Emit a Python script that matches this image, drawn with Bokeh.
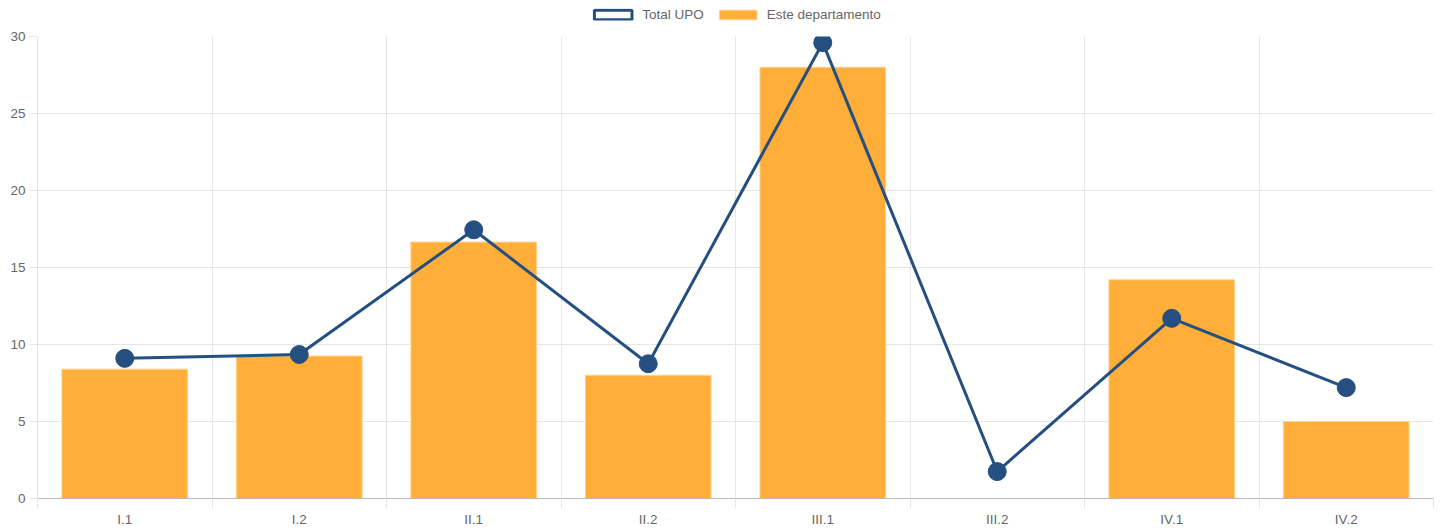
from bokeh.plotting import figure
from bokeh.layouts import column
from bokeh.models import FixedTicker, Legend, LegendItem, ColumnDataSource, Range1d
from bokeh.embed import file_html
from bokeh.resources import INLINE

categories = ["I.1", "I.2", "II.1", "II.2", "III.1", "III.2", "IV.1", "IV.2"]
dept_values = [8.4, 9.25, 16.65, 8.0, 28.0, 0.0, 14.2, 5.0]
total_values = [9.1, 9.35, 17.45, 8.75, 29.6, 1.75, 11.7, 7.2]
y_ticks = [0, 5, 10, 15, 20, 25, 30]
series_names = ["Total UPO", "Este departamento"]

BAR = "#FFAE3A"
BAR_EDGE = "#FFD08F"
LINE = "#244F80"
FONT = "Liberation Sans"
TXT = "#666666"
GRID = "#e6e6e6"
FS = "13.5px"

xs = [i + 0.5 for i in range(len(categories))]
src = ColumnDataSource(dict(x=xs, dept=dept_values, total=total_values))

# ---------- main chart ----------
p = figure(width=1434, height=501, output_backend="svg", toolbar_location=None,
           x_range=Range1d(0, len(categories)), y_range=Range1d(0, 30),
           min_border_left=37, min_border_right=1, min_border_top=8, min_border_bottom=0)
p.outline_line_color = None

p.vbar(x="x", top="dept", width=0.72, source=src, fill_color=BAR,
       line_color=BAR_EDGE, line_width=1)
p.line(x="x", y="total", source=src, line_color=LINE, line_width=3)
p.scatter(x="x", y="total", source=src, size=18, fill_color=LINE, line_color=LINE)

# x axis
p.xaxis.ticker = FixedTicker(ticks=xs, minor_ticks=list(range(len(categories) + 1)))
p.xaxis.major_label_overrides = {x: c for x, c in zip(xs, categories)}
p.xaxis.major_tick_out = 0
p.xaxis.major_tick_in = 0
p.xaxis.minor_tick_out = 10
p.xaxis.minor_tick_in = 0
p.xaxis.minor_tick_line_color = GRID
p.xaxis.axis_line_color = "#b8b8b8"
p.xaxis.major_label_text_font = FONT
p.xaxis.major_label_text_font_size = FS
p.xaxis.major_label_text_color = TXT
p.xaxis.major_label_standoff = 3

p.xgrid.ticker = FixedTicker(ticks=list(range(len(categories) + 1)))
p.xgrid.grid_line_color = GRID

# y axis
p.yaxis.ticker = FixedTicker(ticks=y_ticks)
p.yaxis.major_tick_out = 8
p.yaxis.major_tick_in = 0
p.yaxis.minor_tick_line_color = None
p.yaxis.major_tick_line_color = GRID
p.yaxis.axis_line_color = GRID
p.yaxis.major_label_text_font = FONT
p.yaxis.major_label_text_font_size = FS
p.yaxis.major_label_text_color = TXT
p.yaxis.major_label_standoff = 4
p.ygrid.grid_line_color = GRID

# ---------- legend strip ----------
lg = figure(width=1434, height=28, output_backend="svg", toolbar_location=None,
            x_range=Range1d(0, 1), y_range=Range1d(0, 1), min_border=0)
lg.axis.visible = False
lg.grid.visible = False
lg.outline_line_color = None
r_total = lg.rect(x=[-10], y=[-10], width=1, height=1, fill_color="white",
                  line_color=LINE, line_width=3)
r_dept = lg.rect(x=[-10], y=[-10], width=1, height=1, fill_color=BAR,
                 line_color=BAR_EDGE, line_width=1)
legend = Legend(items=[LegendItem(label=series_names[0], renderers=[r_total]),
                       LegendItem(label=series_names[1], renderers=[r_dept])],
                orientation="horizontal", location="center",
                glyph_width=47, glyph_height=12, label_text_font=FONT,
                label_text_font_size=FS, label_text_color=TXT,
                border_line_color=None, background_fill_alpha=0,
                spacing=10, label_standoff=6, padding=2, margin=0)
lg.add_layout(legend, "center")

layout = column(lg, p, spacing=0)
open("out.html", "w").write(file_html(layout, INLINE))
